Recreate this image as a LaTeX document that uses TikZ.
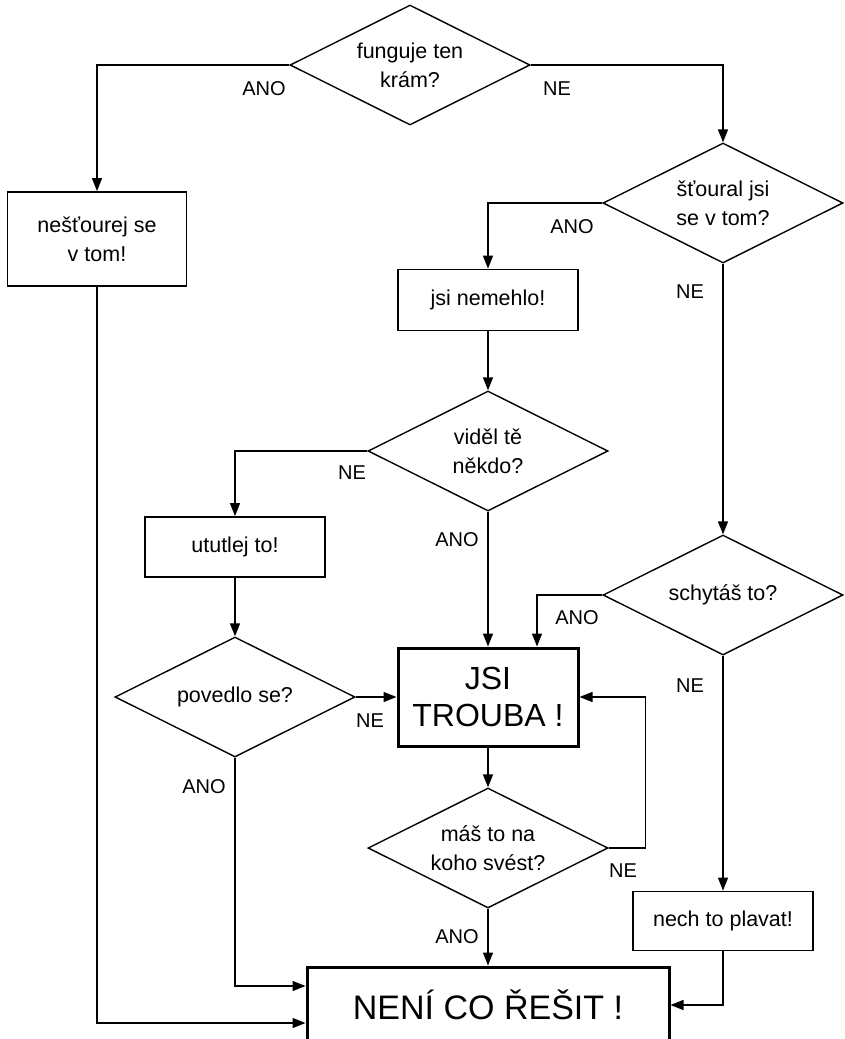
\documentclass[tikz,border=0pt]{standalone}
\usepackage{fontspec}
\setmainfont{Liberation Sans}
\usetikzlibrary{shapes.geometric,arrows.meta}

\begin{document}
\begin{tikzpicture}[x=1pt,y=-1pt,->,>={Triangle[length=13pt,width=10pt]},line width=1.4pt,
  decision/.style={diamond,draw,aspect=2,minimum width=240pt,minimum height=120pt,inner sep=0pt,align=center,font=\fontsize{21.5}{29}\selectfont},
  block/.style={rectangle,draw,line width=1.8pt,minimum width=180pt,minimum height=60pt,inner sep=0pt,align=center,font=\fontsize{21.5}{29}\selectfont},
  bigblock/.style={block,line width=3pt},
  answer/.style={inner sep=0pt,font=\fontsize{20}{24}\selectfont}]
  \clip (0,0) rectangle (845,1039);

  % otazky a bloky
  \node[decision] (d1) at (410,65)  {funguje ten\\krám?};
  \node[block,minimum width=179pt,minimum height=94pt] (b1) at (97,239) {nešťourej se\\v tom!};
  \node[decision] (d2) at (723,203) {šťoural jsi\\se v tom?};
  \node[block,minimum height=61pt] (b2) at (488,300) {jsi nemehlo!};
  \node[decision] (d3) at (488,451) {viděl tě\\někdo?};
  \node[block] (b3) at (235,547) {ututlej to!};
  \node[decision] (d4) at (723,595) {schytáš to?};
  \node[decision] (d5) at (235,697) {povedlo se?};
  \node[bigblock,minimum height=98pt,font=\fontsize{32}{37}\selectfont] (jsi) at (488,697) {JSI\\TROUBA !};
  \node[decision] (d6) at (488,848) {máš to na\\koho svést?};
  \node[block,minimum height=59pt] (b6) at (723,921) {nech to plavat!};
  \node[bigblock,minimum width=362pt,minimum height=76pt,font=\fontsize{34}{40}\selectfont] (neni) at (488,1005) {NENÍ CO ŘEŠIT !};

  % spojnice
  \draw (d1.west) -| (b1.north);
  \draw (d1.east) -| (d2.north);
  \draw (d2.west) -| (b2.north);
  \draw (d2.south) -- (d4.north);
  \draw (b2.south) -- (d3.north);
  \draw (d3.west) -| (b3.north);
  \draw (d3.south) -- (jsi.north);
  \draw (d4.west) -| ([xshift=49pt]jsi.north);
  \draw (b3.south) -- (d5.north);
  \draw (d5.east) -- (jsi.west);
  \draw (jsi.south) -- (d6.north);
  \draw (d6.east) -- ++(37,0) |- (jsi.east);
  \draw (d6.south) -- (neni.north);
  \draw (d4.south) -- (b6.north);
  \draw (b6.south) |- (neni.east);
  \draw (d5.south) |- ([yshift=19pt]neni.west);
  \draw (b1.south) |- ([yshift=-18pt]neni.west);

  % popisky
  \node[answer] (a1) at (264,89)  {ANO};
  \node[answer] (n1) at (557,89)  {NE};
  \node[answer] (a2) at (572,227) {ANO};
  \node[answer] (n2) at (690,292) {NE};
  \node[answer] (n3) at (352,473) {NE};
  \node[answer] (a3) at (457,540) {ANO};
  \node[answer] (a4) at (577,618) {ANO};
  \node[answer] (n4) at (690,686) {NE};
  \node[answer] (n5) at (370,721) {NE};
  \node[answer] (a5) at (204,787) {ANO};
  \node[answer] (n6) at (623,871) {NE};
  \node[answer] (a6) at (457,937) {ANO};
\end{tikzpicture}
\end{document}
